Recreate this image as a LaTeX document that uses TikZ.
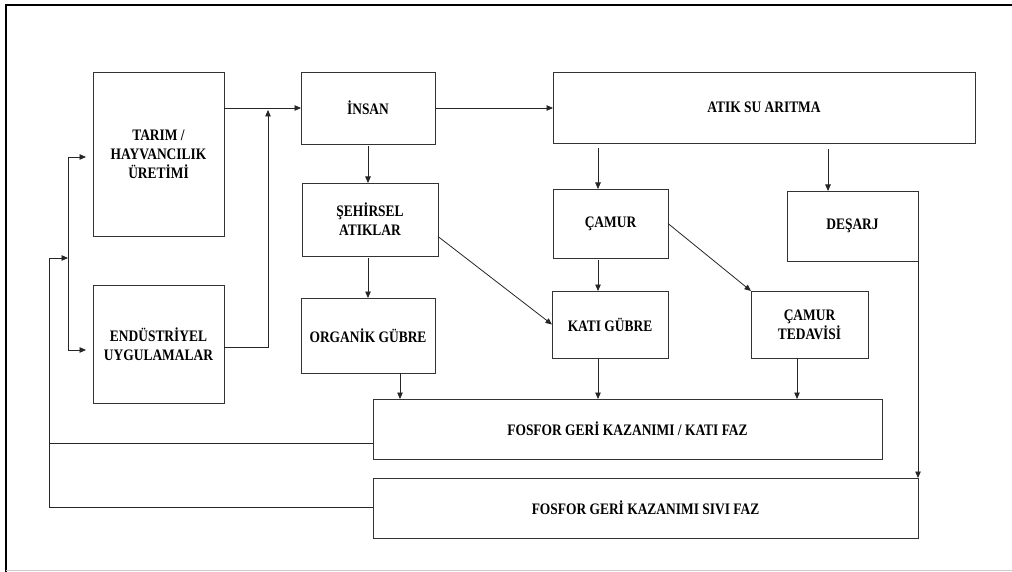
\documentclass[tikz,border=0pt]{standalone}
\usepackage{fontspec}
\setmainfont{Liberation Serif}
\newfontfamily\boxfont[FakeStretch=0.84]{Liberation Serif}
\usetikzlibrary{arrows.meta}

\tikzset{
  box/.style={draw=black!80, line width=0.9pt, anchor=north west, inner sep=0pt,
    outer sep=0pt, align=center, font=\boxfont\fontsize{16}{19}\selectfont\bfseries},
  link/.style={draw=black!85, line width=0.8pt},
  arr/.style={link, -{Triangle[length=6.5pt,width=5.5pt]}}
}

\begin{document}
\begin{tikzpicture}[x=1pt, y=-1pt]
\useasboundingbox (0,0) rectangle (1012,572);

% page frame
\draw[line width=1.6pt] (6,572) -- (6,5) -- (1012,5);
\draw[black!20, line width=1pt] (6,570) -- (1012,570);

% boxes: top-left corner, width, height
\node[box, minimum width=131pt, minimum height=164pt] (tarim) at (93,72) {TARIM /\\HAYVANCILIK\\ÜRETİMİ};
\node[box, minimum width=131pt, minimum height=118pt] (endus) at (93,285) {ENDÜSTRİYEL\\UYGULAMALAR};
\node[box, minimum width=134pt, minimum height=72pt] (insan) at (301,72) {İNSAN};
\node[box, minimum width=422pt, minimum height=71pt] (atik) at (553,72) {ATIK SU ARITMA};
\node[box, minimum width=136pt, minimum height=73pt] (sehir) at (302,183) {ŞEHİRSEL\\ATIKLAR};
\node[box, minimum width=134pt, minimum height=75pt] (organik) at (301,298) {ORGANİK GÜBRE};
\node[box, minimum width=115pt, minimum height=69pt] (camur) at (553,189) {ÇAMUR};
\node[box, minimum width=116pt, minimum height=67pt] (katig) at (552,291) {KATI GÜBRE};
\node[box, minimum width=131pt, minimum height=70pt] (desarj) at (787,191) {DEŞARJ};
\node[box, minimum width=117pt, minimum height=67pt] (tedavi) at (751,291) {ÇAMUR\\TEDAVİSİ};
\node[box, minimum width=509pt, minimum height=60pt] (fkati) at (373,399) {FOSFOR GERİ KAZANIMI / KATI FAZ};
\node[box, minimum width=545pt, minimum height=60pt] (fsivi) at (373,478) {FOSFOR GERİ KAZANIMI SIVI FAZ};

% junctions
\coordinate (join) at (268,108);
\coordinate (btop) at (68,157);
\coordinate (bbot) at (68,350);
\coordinate (back) at (49,258);

% sources to İNSAN
\draw[arr] (tarim.east |- insan.west) -- (insan.west);
\draw[arr] (endus.east |- 0,347) -| ([yshift=-2pt]join);

% distribution back to the sources
\draw[link] (btop) -- (bbot);
\draw[arr, shorten >=7pt] (btop) -- (tarim.west |- btop);
\draw[arr, shorten >=7pt] (bbot) -- (endus.west |- bbot);

% feedback from the recovery stages
\draw[link] (fkati.west |- 0,443) -- (back |- 0,443);
\draw[arr] (fsivi.west |- 0,507) -| (back) -- (btop |- back);

% İNSAN branch
\draw[arr] (insan.east) -- (atik.west |- insan.east);
\draw[arr, shorten <=2pt] (insan.south) -- (insan.south |- sehir.north);
\draw[arr, shorten <=2pt] (organik.north |- sehir.south) -- (organik.north);
\draw[arr] ([yshift=-17pt]sehir.east) -- (katig.west);
\draw[arr] (organik.south -| 400,0) -- (fkati.north -| 400,0);

% wastewater branch
\draw[arr, shorten <=5pt] (atik.south -| 598,0) -- (camur.north -| 598,0);
\draw[arr, shorten <=2pt] (camur.south -| 598,0) -- (katig.north -| 598,0);
\draw[arr] (camur.east) -- (tedavi.north west);
\draw[arr, shorten <=6pt] (atik.south -| 828,0) -- (desarj.north -| 828,0);
\draw[arr] (katig.south -| 598,0) -- (fkati.north -| 598,0);
\draw[arr] (tedavi.south -| 797,0) -- (fkati.north -| 797,0);
\draw[arr] (desarj.south east) -- (fsivi.north east);

\end{tikzpicture}
\end{document}
